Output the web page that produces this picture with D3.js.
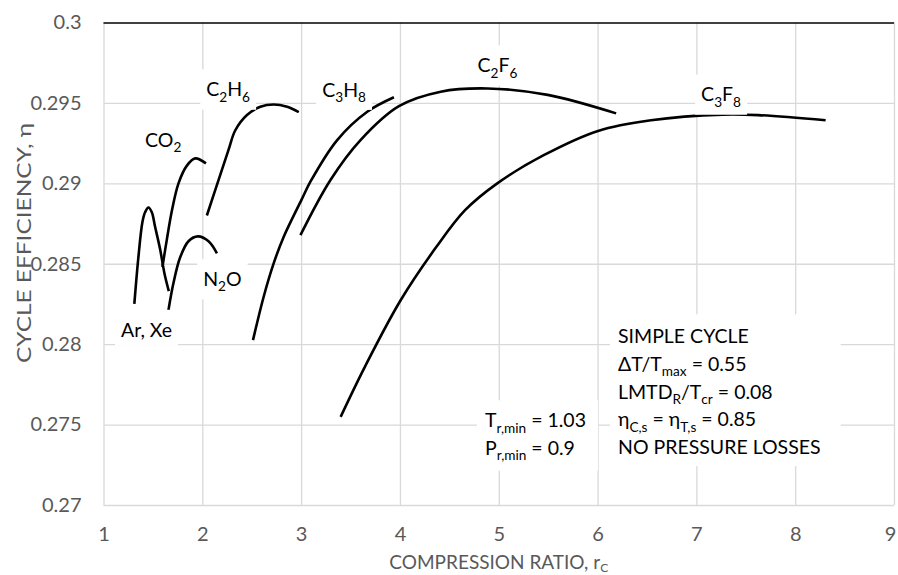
<!DOCTYPE html>
<html>
<head>
<meta charset="utf-8">
<script src="https://cdn.jsdelivr.net/npm/d3@7"></script>
<style>
  body { margin: 0; background: #fff; }
  svg { display: block; font-family: Lato, 'Open Sans', sans-serif; }
</style>
</head>
<body>
<div id="chart"></div>
<script>
// Cycle efficiency vs compression ratio, one curve per working fluid
// values: [compression ratio, efficiency]
var arXe = [[1.312, 0.2825], [1.353, 0.2854], [1.394, 0.2876], [1.421, 0.2882], [1.455, 0.2885],
  [1.489, 0.2882], [1.522, 0.2873], [1.573, 0.2859], [1.617, 0.2844], [1.661, 0.2833]];
var co2 = [[1.596, 0.2848], [1.641, 0.2865], [1.692, 0.2883], [1.759, 0.2900], [1.844, 0.2911],
  [1.928, 0.29155], [2.037, 0.29124]];
var n2o = [[1.657, 0.2821], [1.708, 0.2838], [1.776, 0.2854], [1.86, 0.2864], [1.955, 0.2867],
  [2.063, 0.2864], [2.148, 0.28565]];
var c2h6 = [[2.046, 0.2880], [2.164, 0.2902], [2.266, 0.2921], [2.334, 0.2933], [2.452, 0.29425],
  [2.587, 0.29476], [2.722, 0.2949], [2.858, 0.29476], [2.976, 0.29443]];
var c3h8 = [[2.513, 0.28025], [2.621, 0.28295], [2.722, 0.28502], [2.824, 0.28668], [3.006, 0.2890],
  [3.094, 0.2901], [3.365, 0.29269], [3.669, 0.29445], [3.939, 0.29535]];
var c2f6 = [[2.993, 0.28678], [3.297, 0.29021], [3.601, 0.29269], [3.99, 0.2948], [4.413, 0.2957],
  [4.886, 0.2959], [5.495, 0.2955], [6.188, 0.29435]];
var c3f8 = [[3.40, 0.27548], [3.645, 0.27859], [4.007, 0.28273], [4.369, 0.28605], [4.659, 0.28833],
  [4.985, 0.2900], [5.455, 0.29175], [6.005, 0.29326], [6.541, 0.29392], [7.265, 0.29427],
  [7.627, 0.29424], [8.308, 0.29392]];

var curves = [arXe, co2, n2o, c2h6, c3h8, c2f6, c3f8];

// axis ticks
var xTicks = [1, 2, 3, 4, 5, 6, 7, 8, 9];
var xTickLabels = ['1', '2', '3', '4', '5', '6', '7', '8', '9'];
var yTicks = [0.27, 0.275, 0.28, 0.285, 0.29, 0.295, 0.3];
var yTickLabels = ['0.27', '0.275', '0.28', '0.285', '0.29', '0.295', '0.3'];

// curve names: [text, subscript?] pieces, anchored at [r, eta] (left, baseline)
var fluidLabels = [
  { parts: [['C'], ['2', 1], ['H'], ['6', 1]], at: [2.04, 0.2954] },
  { parts: [['C'], ['3', 1], ['H'], ['8', 1]], at: [3.213, 0.29539] },
  { parts: [['C'], ['2', 1], ['F'], ['6', 1]], at: [4.785, 0.2969] },
  { parts: [['C'], ['3', 1], ['F'], ['8', 1]], at: [7.048, 0.29509] },
  { parts: [['CO'], ['2', 1]], at: [1.421, 0.29229] },
  { parts: [['N'], ['2', 1], ['O']], at: [2.009, 0.28361] },
  { parts: [['Ar, Xe']], at: [1.177, 0.28046] }
];

var conditionLines = [
  [['SIMPLE CYCLE']],
  [['\u0394T/T'], ['max', 1], [' = 0.55']],
  [['LMTD'], ['R', 1], ['/T'], ['cr', 1], [' = 0.08']],
  [['\u03b7'], ['C,s', 1], [' = \u03b7'], ['T,s', 1], [' = 0.85']],
  [['NO PRESSURE LOSSES']]
];
var minLines = [
  [['T'], ['r,min', 1], [' = 1.03']],
  [['P'], ['r,min', 1], [' = 0.9']]
];

var width = 898;
var height = 575;
var plot = { left: 103.5, right: 894, top: 22.5, bottom: 505 };

var x = d3.scaleLinear().domain([1, 9]).range([plot.left, plot.right]);
var y = d3.scaleLinear().domain([0.27, 0.3]).range([plot.bottom, plot.top]);

var svg = d3.select('#chart').append('svg')
  .attr('width', width)
  .attr('height', height);

// gridlines + tick labels
var xAxis = svg.append('g')
  .attr('transform', 'translate(0,' + plot.bottom + ')')
  .call(d3.axisBottom(x).tickValues(xTicks)
    .tickFormat(function (d, i) { return xTickLabels[i]; })
    .tickSize(-(plot.bottom - plot.top)).tickPadding(22));

var yAxis = svg.append('g')
  .attr('transform', 'translate(' + plot.left + ',0)')
  .call(d3.axisLeft(y).tickValues(yTicks)
    .tickFormat(function (d, i) { return yTickLabels[i]; })
    .tickSize(-(plot.right - plot.left)).tickPadding(22));

[xAxis, yAxis].forEach(function (a) {
  a.select('.domain').remove();
  a.selectAll('line').attr('stroke', '#d9d9d9').attr('stroke-width', 1.3);
  a.selectAll('text')
    .attr('fill', '#595959')
    .style('font-size', '20px')
    .style('font-family', 'Lato, sans-serif');
});

// last x label sits against the right edge
xAxis.selectAll('.tick').filter(function (d) { return d === 9; })
  .select('text').attr('dx', -4);

// top edge of the plot area is dark
yAxis.selectAll('.tick').filter(function (d) { return d === 0.3; })
  .select('line').attr('stroke', '#000').attr('stroke-width', 1.6);

// axis titles
svg.append('text')
  .attr('transform', 'translate(31,243) rotate(-90)')
  .attr('text-anchor', 'middle')
  .attr('fill', '#595959')
  .attr('textLength', 240)
  .attr('lengthAdjust', 'spacingAndGlyphs')
  .style('font-size', '20px')
  .text('CYCLE EFFICIENCY, \u03b7');

var xTitle = svg.append('text')
  .attr('x', (plot.left + plot.right) / 2)
  .attr('y', 569)
  .attr('text-anchor', 'middle')
  .attr('fill', '#595959')
  .style('font-size', '19px');
xTitle.append('tspan').text('COMPRESSION RATIO, r');
xTitle.append('tspan').attr('dy', 3).style('font-size', '12px').text('C');

// the curves
var line = d3.line()
  .x(function (d) { return x(d[0]); })
  .y(function (d) { return y(d[1]); })
  .curve(d3.curveCatmullRom.alpha(0.5));

svg.append('g').selectAll('path')
  .data(curves)
  .enter().append('path')
  .attr('d', line)
  .attr('fill', 'none')
  .attr('stroke', '#000')
  .attr('stroke-width', 2.6);

// writes a line of text with subscripts into a text element
function richLine(text, parts, size) {
  var down = false;
  parts.forEach(function (p) {
    var t = text.append('tspan').text(p[0]);
    if (p[1] && !down) { t.attr('dy', size * 0.27).style('font-size', (size * 0.7) + 'px'); down = true; }
    else if (!p[1] && down) { t.attr('dy', -size * 0.27); down = false; }
  });
}

// text block with a white box behind it (hides the gridlines)
function textBlock(lines, px, py, lineH, size, pad) {
  var g = svg.append('g');
  var bg = g.append('rect').attr('fill', '#fff');
  lines.forEach(function (parts, i) {
    var t = g.append('text')
      .attr('x', px)
      .attr('y', py + i * lineH)
      .attr('fill', '#000')
      .style('font-size', size + 'px');
    richLine(t, parts, size);
  });
  var bb = g.node().getBBox();
  bg.attr('x', bb.x - pad[3])
    .attr('y', bb.y - pad[0])
    .attr('width', bb.width + pad[1] + pad[3])
    .attr('height', bb.height + pad[0] + pad[2]);
}

fluidLabels.forEach(function (l) {
  textBlock([l.parts], x(l.at[0]), y(l.at[1]), 0, 19.5, [8, 6, 5, 6]);
});

textBlock(conditionLines, 618, 343.3, 27.7, 19.5, [10, 20, 8, 8]);
textBlock(minLines, 485, 427.3, 27.2, 19.5, [8, 12, 8, 8]);
</script>
</body>
</html>
